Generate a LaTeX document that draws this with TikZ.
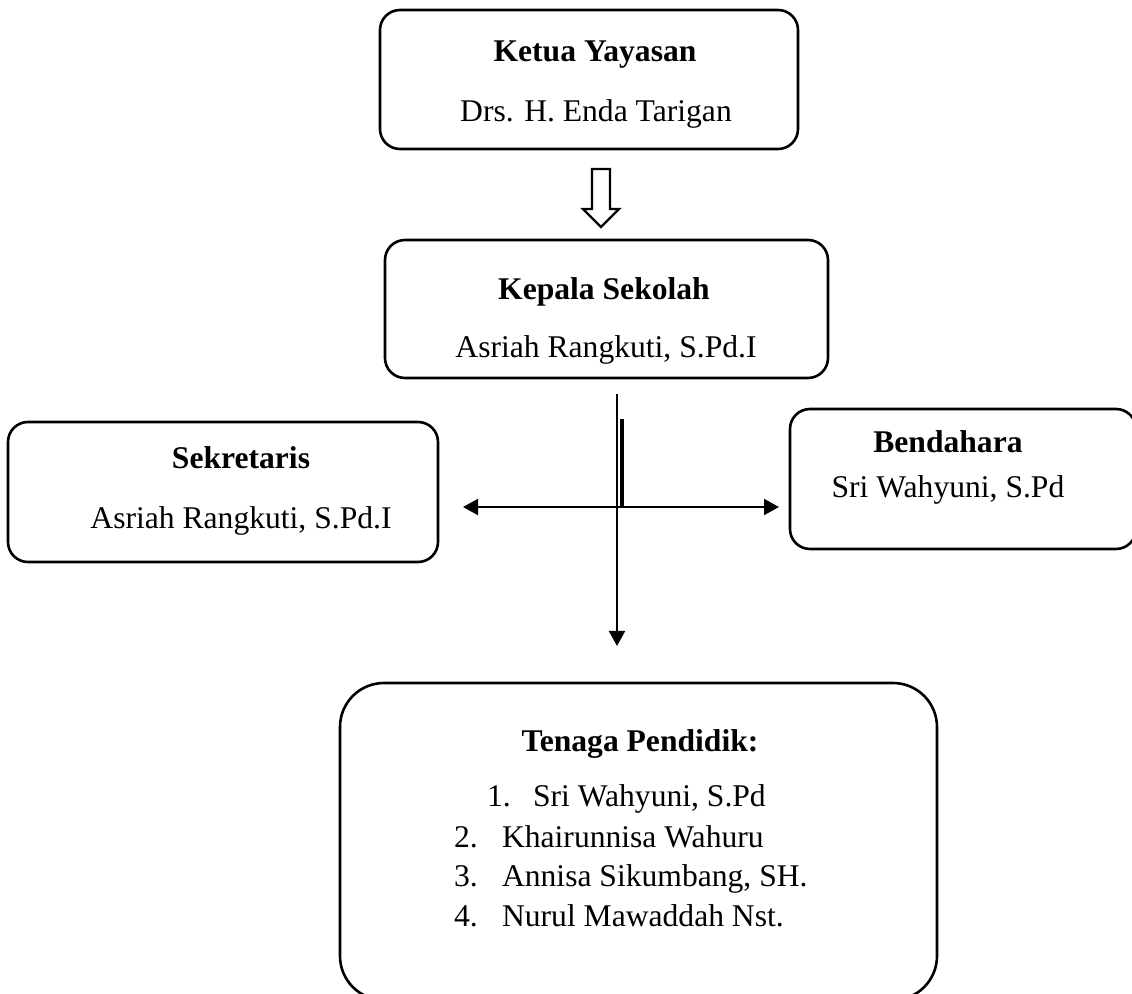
\documentclass[tikz,border=0pt]{standalone}
\usepackage{fontspec}
\setmainfont{Liberation Serif}
\usetikzlibrary{arrows.meta}
\tikzset{box/.style={draw,line width=1.3pt,rounded corners=10pt,inner sep=0pt},
  titlelbl/.style={font=\fontsize{15.8}{19}\selectfont\bfseries,anchor=base},
  namelbl/.style={font=\fontsize{15.8}{19}\selectfont,anchor=base},
  listlbl/.style={font=\fontsize{15.8}{19}\selectfont,anchor=base west}}

\begin{document}
\begin{tikzpicture}[x=0.5pt,y=-0.5pt,>={Triangle[length=7.5pt,width=8pt]}]
  \clip (0,0) rectangle (1132,994);
  % boxes
  \node[box,minimum width=209pt,minimum height=69.5pt] (ketua) at (589,79.5) {};
  \node[box,minimum width=221.5pt,minimum height=69pt] (kepsek) at (606.5,309) {};
  \node[box,minimum width=215pt,minimum height=70pt] (sekretaris) at (223,492) {};
  \node[box,minimum width=173pt,minimum height=70pt] (bendahara) at (963,479) {};
  \node[box,rounded corners=22pt,minimum width=298.5pt,minimum height=158.5pt] (pendidik) at (638.5,841.5) {};
  % texts
  \node[titlelbl] (ketua-t) at (595,62) {Ketua Yayasan};
  \node[namelbl] (ketua-n) at (596,122) {Drs. H. Enda Tarigan};
  \node[titlelbl] (kepsek-t) at (604,300) {Kepala Sekolah};
  \node[namelbl] (kepsek-n) at (606,358) {Asriah Rangkuti, S.Pd.I};
  \node[titlelbl] (sekretaris-t) at (241,469) {Sekretaris};
  \node[namelbl] (sekretaris-n) at (241,529) {Asriah Rangkuti, S.Pd.I};
  \node[titlelbl] (bendahara-t) at (948,453) {Bendahara};
  \node[namelbl] (bendahara-n) at (948,498) {Sri Wahyuni, S.Pd};
  \node[titlelbl] (pendidik-t) at (640,752) {Tenaga Pendidik:};
  \foreach \n/\t/\nx/\tx/\y in {1./{Sri Wahyuni, S.Pd}/480/526/807,
      2./{Khairunnisa Wahuru}/447/495/848,
      3./{Annisa Sikumbang, SH.}/447/495/887,
      4./{Nurul Mawaddah Nst.}/447/495/927}
    \node[listlbl] at (\nx,\y) {\n} node[listlbl] at (\tx,\y) {\t};
  % hollow arrow
  \draw[line width=1.1pt,line join=miter]
      (592,169) -- (610,169) -- (610,209) -- (619,209) -- (601,227)
      -- (583,209) -- (592,209) -- cycle;
  % connectors
  \coordinate (top) at (617,394);
  \coordinate (hub) at (617,507);
  \coordinate (down) at (617,646);
  \coordinate (left) at (463,507);
  \coordinate (right) at (779,507);
  \draw[line width=1pt,->] (top) -- (down);
  \draw[line width=1pt,->] (hub) -- (left);
  \draw[line width=1pt,->] (hub) -- (right);
  \draw[line width=2pt] ([xshift=2.25pt]hub) ++(0,-88) -- ([xshift=2.25pt]hub);
\end{tikzpicture}
\end{document}
